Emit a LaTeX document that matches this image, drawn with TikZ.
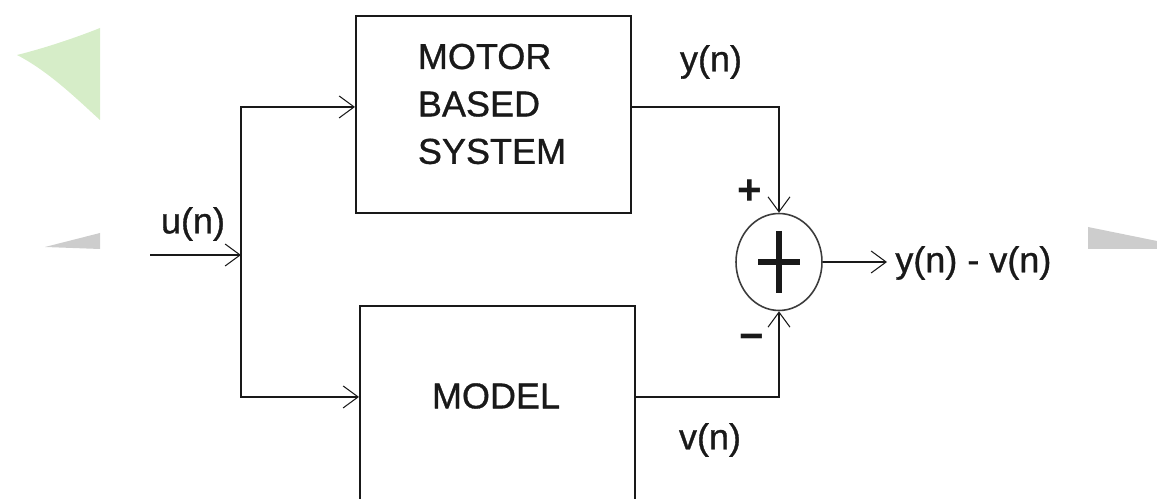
\documentclass[tikz,border=0pt]{standalone}
\usepackage{fontspec}
\setmainfont{Liberation Sans}
\newfontfamily\lblfont[FakeBold=0.9]{Liberation Sans}
\usetikzlibrary{arrows.meta,calc,shapes.geometric}
\definecolor{leaf}{RGB}{214,237,200}
\definecolor{wmgray}{RGB}{205,205,205}
\definecolor{ink}{RGB}{25,25,25}
\tikzset{
  blk/.style={draw=ink, line width=1.1pt, minimum width=5.5cm, anchor=north west, inner sep=0},
  lbl/.style={font=\lblfont\fontsize{20.5}{27}\selectfont, inner sep=0, text=ink},
  sgn/.style={font=\fontsize{24}{28}\selectfont\bfseries, inner sep=0, text=ink},
  wire/.style={draw=ink, line width=1.1pt},
  arr/.style={wire, -{Straight Barb[length=0.3cm,width=0.44cm,line width=0.6pt]}},
}
\begin{document}
\begin{tikzpicture}[x=0.02cm,y=-0.02cm]
\useasboundingbox (0,0) rectangle (1157,499);
\clip (0,0) rectangle (1157,499);
% faint watermark pieces
\fill[leaf] (17,55) .. controls (45,48) and (75,38) .. (100,28) -- (100,120) .. controls (80,102) and (50,72) .. (17,55) -- cycle;
\fill[wmgray] (45,247) -- (100,233) -- (100,249) -- cycle;
\fill[wmgray] (1088,227) -- (1157,241) -- (1157,249) -- (1088,249) -- cycle;
% blocks
\node[blk, minimum height=3.94cm] (sys) at (355,15) {};
\node[lbl, align=left] (systxt) at (492,104) {MOTOR\\BASED\\SYSTEM};
\node[blk, minimum height=4.1cm] (model) at (359,305) {};
\node[lbl] (modeltxt) at (496,396) {MODEL};
\node[draw=ink!85, line width=0.9pt, ellipse, minimum width=1.72cm, minimum height=1.94cm, inner sep=0] (sum) at (779,262) {};
\draw[ink, line width=3.2pt] ($(sum.center)+(-21,0)$) -- ($(sum.center)+(21,0)$);
\draw[ink, line width=3.2pt] ($(sum.center)+(0,-31)$) -- ($(sum.center)+(0,31)$);
% coordinates
\coordinate (in) at (150,255);
\coordinate (split) at (241,255);
\coordinate (out) at (887,262);
% connectors
\draw[arr] (in) -- (split);
\draw[arr] (split) |- ($(sys.west)+(0,-7.5)$);
\draw[arr] (split) |- ($(model.west)+(0,-11.5)$);
\draw[arr] ($(sys.east)+(0,-7.5)$) -| (sum.north);
\draw[arr] ($(model.east)+(0,-11.5)$) -| (sum.south);
\draw[arr] (sum.east) -- (out);
% labels
\node[lbl] (u) at (193,224) {u(n)};
\node[lbl] (y) at (711,62) {y(n)};
\node[lbl] (v) at (710,440) {v(n)};
\node[lbl, anchor=west] (diff) at (895,263) {y(n) - v(n)};
\node[sgn] (plus) at (750,192) {+};
\node[sgn] (minus) at (752,342) {−};
\end{tikzpicture}
\end{document}
